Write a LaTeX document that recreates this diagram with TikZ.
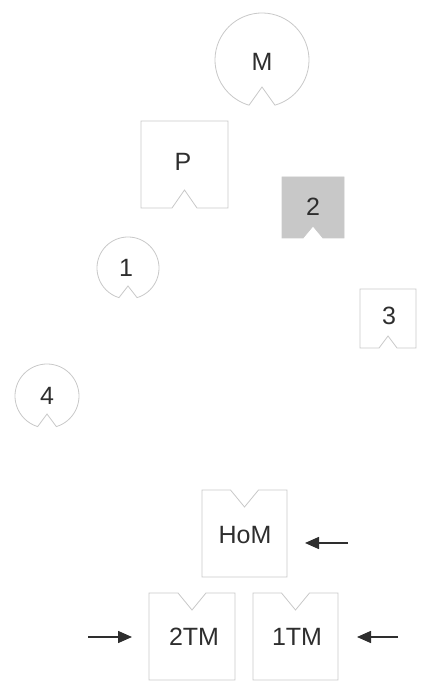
\documentclass[tikz,border=0pt]{standalone}
\usepackage{fontspec}
\setmainfont{Liberation Sans}
\usetikzlibrary{arrows.meta}
\definecolor{edgegray}{HTML}{C8C8C8}
\definecolor{fillgray}{HTML}{C8C8C8}
\definecolor{inkgray}{HTML}{2E2E2E}
\tikzset{
  shapeline/.style={draw=edgegray, line width=0.8pt, line join=miter},
  lbl/.style={text=inkgray, font=\fontsize{25}{28}\selectfont, inner sep=0pt},
  pointer/.style={draw=inkgray, line width=1.5pt, -{Triangle[length=14pt,width=12pt]}}
}
\newcommand\notchcirc[5]{% x y r halfangle depth
  \draw[shapeline] (#1pt,#2pt) ++(-90+#4:#3pt) arc[start angle=-90+#4, end angle=270-#4, radius=#3pt] -- (#1pt,#2pt-#5pt) -- cycle;}
\begin{document}
\begin{tikzpicture}[x=1pt,y=1pt]
\useasboundingbox (0,0) rectangle (421,683);
% circles
\notchcirc{262}{623}{47}{16}{27}
\notchcirc{128}{415}{31}{17}{18}
\notchcirc{47}{287}{32}{17}{18}
% top boxes (notch at bottom)
\draw[shapeline] (141,562) -- (228,562) -- (228,475) -- (197,475) -- (184.5,493) -- (172,475) -- (141,475) -- cycle;
\draw[shapeline, fill=fillgray] (282,506) -- (344,506) -- (344,445) -- (323,445) -- (313,457) -- (303,445) -- (282,445) -- cycle;
\draw[shapeline] (360,394) -- (416,394) -- (416,335) -- (397,335) -- (388,347) -- (379,335) -- (360,335) -- cycle;
% bottom boxes (notch at top)
\draw[shapeline] (202,106) -- (287,106) -- (287,193) -- (258.5,193) -- (244.5,176) -- (230.5,193) -- (202,193) -- cycle;
\draw[shapeline] (149,3) -- (235,3) -- (235,90) -- (206,90) -- (192,73) -- (178,90) -- (149,90) -- cycle;
\draw[shapeline] (253,3) -- (338,3) -- (338,90) -- (309.5,90) -- (295.5,73) -- (281.5,90) -- (253,90) -- cycle;
% labels
\node[lbl] (m) at (262,621) {M};
\node[lbl] (p) at (183,521) {P};
\node[lbl] (two) at (313,476) {2};
\node[lbl] (one) at (126,415) {1};
\node[lbl] (three) at (389,367) {3};
\node[lbl] (four) at (47,287) {4};
\node[lbl] (hom) at (245,148) {HoM};
\node[lbl] (ttm) at (194,46) {2TM};
\node[lbl] (otm) at (297,46) {1TM};
% arrows
\coordinate (homtail) at (348,140);
\coordinate (homtip) at (305,140);
\coordinate (ttmtail) at (88,46);
\coordinate (ttmtip) at (132,46);
\coordinate (otmtail) at (398,46);
\coordinate (otmtip) at (357,46);
\draw[pointer] (homtail) -- (homtip);
\draw[pointer] (ttmtail) -- (ttmtip);
\draw[pointer] (otmtail) -- (otmtip);
\end{tikzpicture}
\end{document}
